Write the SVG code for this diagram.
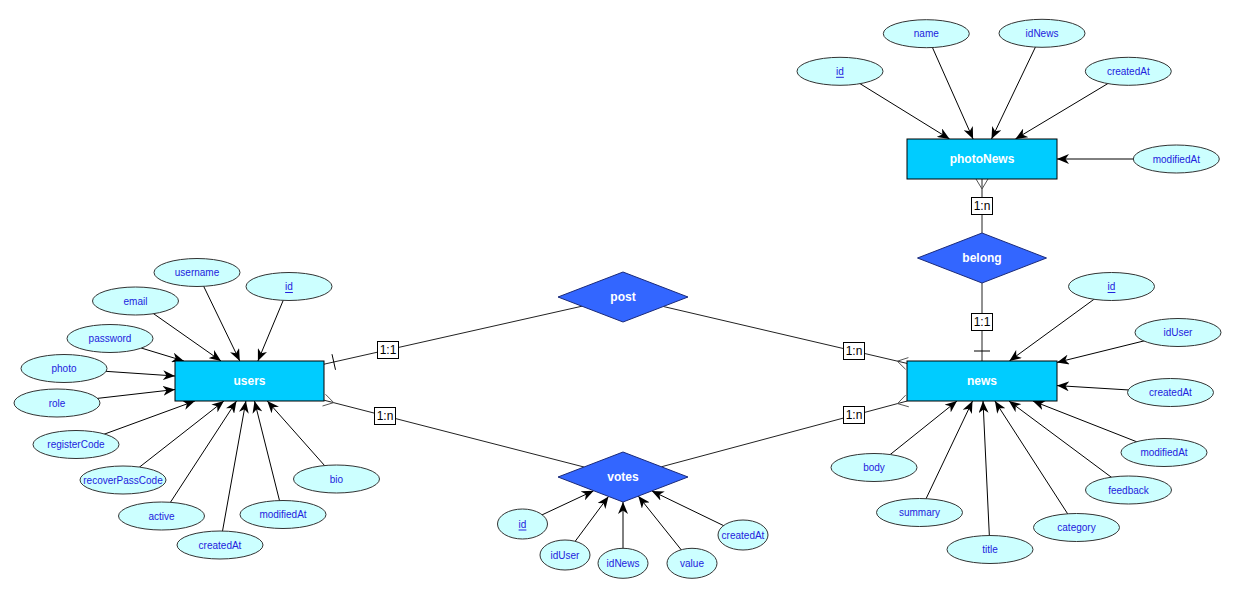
<svg xmlns="http://www.w3.org/2000/svg" width="1234" height="592" viewBox="0 0 1234 592">
<defs>
<marker id="arrow" markerWidth="12" markerHeight="10" refX="12" refY="5" orient="auto" markerUnits="userSpaceOnUse"><path d="M0,0 L12,5 L0,10 L3.5,5 Z" fill="#000"/></marker>
</defs>
<style>
.attr ellipse{fill:#ccffff;stroke:#333;stroke-width:1}
.attr text{font-family:"Liberation Sans",Arial,sans-serif;font-size:10px;fill:#2222dd;text-anchor:middle;dominant-baseline:central}
.pk{text-decoration:underline}
.ent rect{fill:#00ccff;stroke:#000;stroke-width:1}
.ent text,.rel text{font-family:"Liberation Sans",Arial,sans-serif;font-size:12px;font-weight:bold;fill:#fff;text-anchor:middle;dominant-baseline:central}
.rel polygon{fill:#3366ff;stroke:#1a2a7a;stroke-width:1}
.link{stroke:#000;stroke-width:1;fill:none;marker-end:url(#arrow)}
.rl{stroke:#222;stroke-width:1;fill:none}
.cf{stroke:#555;stroke-width:1;fill:none}
.tick{stroke:#000;stroke-width:1}
.lbl rect{fill:#fff;stroke:#000;stroke-width:1}
.lbl text{font-family:"Liberation Sans",Arial,sans-serif;font-size:12px;fill:#000;text-anchor:middle;dominant-baseline:central}
</style>
<rect width="1234" height="592" fill="#fff"/>
<g id="connectors">
<!-- relationship lines -->
<line class="rl" x1="324" y1="364.2" x2="582" y2="306.2"/>
<line class="rl" x1="663.4" y1="306.5" x2="907" y2="363.4"/>
<line class="rl" x1="324" y1="400.2" x2="584" y2="467"/>
<line class="rl" x1="661.3" y1="466.8" x2="907.2" y2="401"/>
<line class="rl" x1="982" y1="179" x2="982" y2="233"/>
<line class="rl" x1="982" y1="283" x2="982" y2="361"/>
<!-- cardinality marks -->
<line class="tick" x1="332" y1="354.2" x2="335.5" y2="369.8"/>
<line class="tick" x1="974" y1="351" x2="990" y2="351"/>
<polyline class="cf" points="325.5,394.3 333.7,402.6 322.5,406"/>
<polyline class="cf" points="908.4,357.6 897.3,361.2 905.6,369.3"/>
<polyline class="cf" points="905.6,395.2 897.5,403.6 908.8,406.8"/>
<polyline class="cf" points="976,179 982,189 988,179"/>
<!-- attribute links: users -->
<line class="link" x1="197" y1="272.5" x2="239.8" y2="361"/>
<line class="link" x1="289" y1="286.5" x2="257.9" y2="361"/>
<line class="link" x1="135.5" y1="301" x2="221" y2="361"/>
<line class="link" x1="110" y1="338.5" x2="183.9" y2="361"/>
<line class="link" x1="64" y1="368.5" x2="175" y2="376"/>
<line class="link" x1="57" y1="403" x2="175" y2="389.5"/>
<line class="link" x1="76" y1="444.5" x2="194.9" y2="401"/>
<line class="link" x1="123" y1="480" x2="223.9" y2="401"/>
<line class="link" x1="161.5" y1="516" x2="236.5" y2="401"/>
<line class="link" x1="220" y1="545" x2="245.9" y2="401"/>
<line class="link" x1="283" y1="514.5" x2="254.5" y2="401"/>
<line class="link" x1="336.5" y1="479" x2="267.3" y2="401"/>
<!-- attribute links: news -->
<line class="link" x1="1111.5" y1="286.5" x2="1009.4" y2="361"/>
<line class="link" x1="1178" y1="332.5" x2="1057" y2="362.4"/>
<line class="link" x1="1170.5" y1="392.5" x2="1057" y2="385.6"/>
<line class="link" x1="1164" y1="452.5" x2="1032.9" y2="401"/>
<line class="link" x1="1128.5" y1="490" x2="1008.9" y2="401"/>
<line class="link" x1="1076.5" y1="527.5" x2="994.9" y2="401"/>
<line class="link" x1="990" y1="549.5" x2="983" y2="401"/>
<line class="link" x1="919.5" y1="512.5" x2="972.5" y2="401"/>
<line class="link" x1="874" y1="467.5" x2="957" y2="401"/>
<!-- attribute links: photoNews -->
<line class="link" x1="840" y1="71.3" x2="949.6" y2="139"/>
<line class="link" x1="926.3" y1="33.7" x2="973.1" y2="139"/>
<line class="link" x1="1042" y1="33.3" x2="991.5" y2="139"/>
<line class="link" x1="1128.3" y1="71.3" x2="1015.4" y2="139"/>
<line class="link" x1="1176.3" y1="159" x2="1057" y2="159"/>
<!-- attribute links: votes -->
<line class="link" x1="522.5" y1="524" x2="593.7" y2="490.7"/>
<line class="link" x1="565" y1="555" x2="608.5" y2="496.4"/>
<line class="link" x1="623" y1="563.3" x2="623" y2="502"/>
<line class="link" x1="692" y1="563.3" x2="638.3" y2="496.1"/>
<line class="link" x1="743" y1="535" x2="651.8" y2="490.9"/>
<!-- cardinality labels -->
<g class="lbl"><rect x="377.5" y="341.5" width="21" height="17"/><text x="388" y="350">1:1</text></g>
<g class="lbl"><rect x="374.5" y="407.5" width="21" height="17"/><text x="385" y="416">1:n</text></g>
<g class="lbl"><rect x="843.5" y="342.5" width="21" height="17"/><text x="854" y="351">1:n</text></g>
<g class="lbl"><rect x="843.5" y="406.5" width="21" height="17"/><text x="854" y="415">1:n</text></g>
<g class="lbl"><rect x="971.5" y="197.5" width="21" height="17"/><text x="982" y="206">1:n</text></g>
<g class="lbl"><rect x="971.5" y="313.5" width="21" height="17"/><text x="982" y="322">1:1</text></g>
</g>
<!-- entities -->
<g id="users" class="ent"><rect x="175" y="361" width="149" height="40"/><text x="249.5" y="381">users</text></g>
<g id="news" class="ent"><rect x="907" y="361" width="150" height="40"/><text x="982" y="381">news</text></g>
<g id="photoNews" class="ent"><rect x="907" y="139" width="150" height="40"/><text x="982" y="159">photoNews</text></g>
<!-- relationships -->
<g id="post" class="rel"><polygon points="558,297 623,272 688,297 623,322"/><text x="623" y="297">post</text></g>
<g id="votes" class="rel"><polygon points="558,477 623,452 688,477 623,502"/><text x="623" y="477">votes</text></g>
<g id="belong" class="rel"><polygon points="917.5,258 982,233 1046.5,258 982,283"/><text x="982" y="258">belong</text></g>
<!-- users attributes -->
<g id="users-username" class="attr"><ellipse cx="197" cy="272.5" rx="43" ry="14"/><text x="197" y="272.5">username</text></g>
<g id="users-id" class="attr"><ellipse cx="289" cy="286.5" rx="43" ry="14"/><text x="289" y="286.5" class="pk">id</text></g>
<g id="users-email" class="attr"><ellipse cx="135.5" cy="301" rx="43" ry="14"/><text x="135.5" y="301">email</text></g>
<g id="users-password" class="attr"><ellipse cx="110" cy="338.5" rx="43" ry="14"/><text x="110" y="338.5">password</text></g>
<g id="users-photo" class="attr"><ellipse cx="64" cy="368.5" rx="43" ry="14"/><text x="64" y="368.5">photo</text></g>
<g id="users-role" class="attr"><ellipse cx="57" cy="403" rx="43" ry="14"/><text x="57" y="403">role</text></g>
<g id="users-registerCode" class="attr"><ellipse cx="76" cy="444.5" rx="43" ry="14"/><text x="76" y="444.5">registerCode</text></g>
<g id="users-recoverPassCode" class="attr"><ellipse cx="123" cy="480" rx="43" ry="14"/><text x="123" y="480">recoverPassCode</text></g>
<g id="users-active" class="attr"><ellipse cx="161.5" cy="516" rx="43" ry="14"/><text x="161.5" y="516">active</text></g>
<g id="users-createdAt" class="attr"><ellipse cx="220" cy="545" rx="43" ry="14"/><text x="220" y="545">createdAt</text></g>
<g id="users-modifiedAt" class="attr"><ellipse cx="283" cy="514.5" rx="43" ry="14"/><text x="283" y="514.5">modifiedAt</text></g>
<g id="users-bio" class="attr"><ellipse cx="336.5" cy="479" rx="43" ry="14"/><text x="336.5" y="479">bio</text></g>
<!-- news attributes -->
<g id="news-id" class="attr"><ellipse cx="1111.5" cy="286.5" rx="43" ry="14"/><text x="1111.5" y="286.5" class="pk">id</text></g>
<g id="news-idUser" class="attr"><ellipse cx="1178" cy="332.5" rx="43" ry="14"/><text x="1178" y="332.5">idUser</text></g>
<g id="news-createdAt" class="attr"><ellipse cx="1170.5" cy="392.5" rx="43" ry="14"/><text x="1170.5" y="392.5">createdAt</text></g>
<g id="news-modifiedAt" class="attr"><ellipse cx="1164" cy="452.5" rx="43" ry="14"/><text x="1164" y="452.5">modifiedAt</text></g>
<g id="news-feedback" class="attr"><ellipse cx="1128.5" cy="490" rx="43" ry="14"/><text x="1128.5" y="490">feedback</text></g>
<g id="news-category" class="attr"><ellipse cx="1076.5" cy="527.5" rx="43" ry="14"/><text x="1076.5" y="527.5">category</text></g>
<g id="news-title" class="attr"><ellipse cx="990" cy="549.5" rx="43" ry="14"/><text x="990" y="549.5">title</text></g>
<g id="news-summary" class="attr"><ellipse cx="919.5" cy="512.5" rx="43" ry="14"/><text x="919.5" y="512.5">summary</text></g>
<g id="news-body" class="attr"><ellipse cx="874" cy="467.5" rx="43" ry="14"/><text x="874" y="467.5">body</text></g>
<!-- photoNews attributes -->
<g id="photoNews-id" class="attr"><ellipse cx="840" cy="71.3" rx="43" ry="14"/><text x="840" y="71.3" class="pk">id</text></g>
<g id="photoNews-name" class="attr"><ellipse cx="926.3" cy="33.7" rx="43" ry="14"/><text x="926.3" y="33.7">name</text></g>
<g id="photoNews-idNews" class="attr"><ellipse cx="1042" cy="33.3" rx="43" ry="14"/><text x="1042" y="33.3">idNews</text></g>
<g id="photoNews-createdAt" class="attr"><ellipse cx="1128.3" cy="71.3" rx="43" ry="14"/><text x="1128.3" y="71.3">createdAt</text></g>
<g id="photoNews-modifiedAt" class="attr"><ellipse cx="1176.3" cy="159" rx="43" ry="14"/><text x="1176.3" y="159">modifiedAt</text></g>
<!-- votes attributes -->
<g id="votes-id" class="attr"><ellipse cx="522.5" cy="524" rx="25" ry="15"/><text x="522.5" y="524" class="pk">id</text></g>
<g id="votes-idUser" class="attr"><ellipse cx="565" cy="555" rx="25" ry="15"/><text x="565" y="555">idUser</text></g>
<g id="votes-idNews" class="attr"><ellipse cx="623" cy="563.3" rx="25" ry="15"/><text x="623" y="563.3">idNews</text></g>
<g id="votes-value" class="attr"><ellipse cx="692" cy="563.3" rx="25" ry="15"/><text x="692" y="563.3">value</text></g>
<g id="votes-createdAt" class="attr"><ellipse cx="743" cy="535" rx="25" ry="15"/><text x="743" y="535">createdAt</text></g>
</svg>
